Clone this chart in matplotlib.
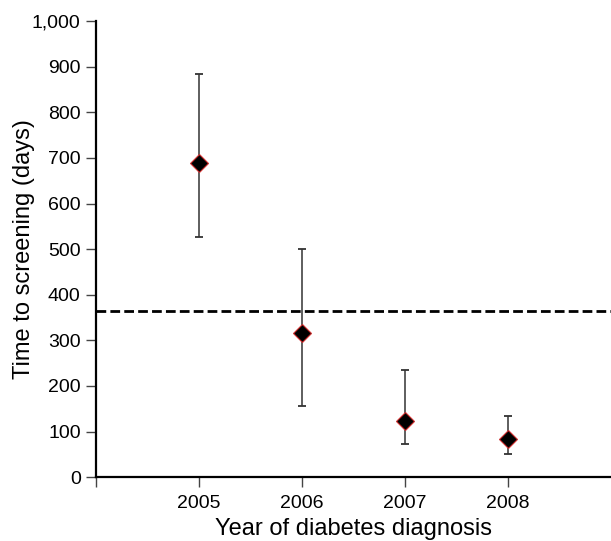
import numpy as np
import matplotlib.pyplot as plt
from matplotlib.ticker import FuncFormatter

plt.rcParams['font.family'] = ['Liberation Sans', 'DejaVu Sans']

years = [2005, 2006, 2007, 2008]
median_days = [688, 316, 123, 83]
lower = [527, 157, 72, 50]
upper = [884, 500, 235, 134]
target_days = 365

fig = plt.figure(figsize=(6.11, 5.41), dpi=100)
ax = fig.add_axes([0.157, 0.118, 0.843, 0.843])

yerr = [np.array(median_days) - np.array(lower), np.array(upper) - np.array(median_days)]
ax.errorbar(years, median_days, yerr=yerr, fmt='none', ecolor='#333333',
            elinewidth=1.1, capsize=2.7, capthick=1.3, zorder=2)
ax.plot(years, median_days, linestyle='none', marker='D', markersize=9,
        markerfacecolor='black', markeredgecolor='#d03030', markeredgewidth=0.8, zorder=3)
ax.axhline(target_days, color='black', linestyle=(0, (3.5, 1.5)), linewidth=2, zorder=1)

ax.set_xlim(2004, 2009)
ax.set_ylim(0, 1000)
ax.set_xticks([2004, 2005, 2006, 2007, 2008])
ax.set_xticklabels(['', '2005', '2006', '2007', '2008'])
ax.set_yticks(range(0, 1001, 100))
ax.yaxis.set_major_formatter(FuncFormatter(lambda v, p: '{:,.0f}'.format(v)))

for s in ['top', 'right']:
    ax.spines[s].set_visible(False)
for s in ['left', 'bottom']:
    ax.spines[s].set_linewidth(1.6)
    ax.spines[s].set_color('black')

ax.tick_params(axis='both', direction='out', length=7, width=1, color='#444444',
               labelsize=14, pad=4)
ax.tick_params(axis='x', pad=5.5)
ax.set_xlabel('Year of diabetes diagnosis', fontsize=17, labelpad=5)
ax.set_ylabel('Time to screening (days)', fontsize=17, labelpad=-2)

fig.savefig('out.png', dpi=100)
